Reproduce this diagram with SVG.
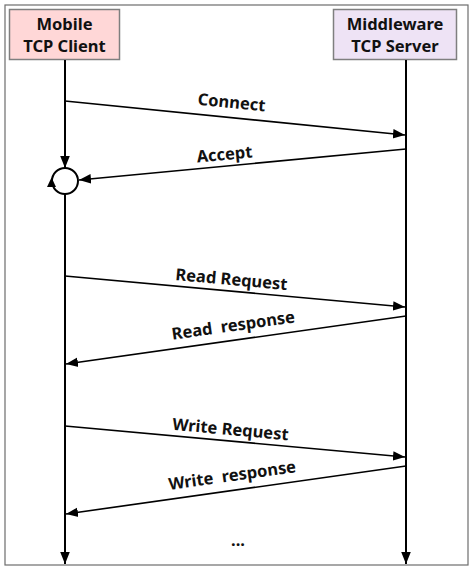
<svg xmlns="http://www.w3.org/2000/svg" width="473" height="568" viewBox="0 0 473 568">
  <style>
    .box { stroke: #7f7f7f; stroke-width: 1.5; }
    .hdr { font-family: "Noto Sans", "Noto Sans CJK KR", sans-serif; font-weight: bold; font-size: 16.5px; fill: #111; text-anchor: middle; }
    .lbl { font-family: "Noto Sans", "Noto Sans CJK KR", sans-serif; font-weight: bold; font-size: 16.5px; fill: #111; text-anchor: middle; white-space: pre; }
    .life { stroke: #000; stroke-width: 2; fill: none; }
    .msg { stroke: #000; stroke-width: 1.6; fill: none; }
  </style>
  <defs>
    <marker id="ahL" viewBox="0 0 10 10" refX="10" refY="5" markerWidth="12" markerHeight="12" orient="auto" markerUnits="userSpaceOnUse">
      <path d="M0,1 L10,5 L0,9 z" fill="#000"/>
    </marker>
  </defs>

  <rect x="5" y="5" width="463" height="560" fill="#fff" stroke="#6d6d6d" stroke-width="1.2"/>

  <g id="client">
    <rect class="box" x="9.5" y="9.5" width="110" height="50" fill="#ffd7d7"/>
    <text class="hdr" x="64.5" y="30">Mobile</text>
    <text class="hdr" x="64.5" y="52">TCP Client</text>
  </g>

  <g id="server">
    <rect class="box" x="333.5" y="9.5" width="123" height="50" fill="#eee3f5"/>
    <text class="hdr" x="395" y="30">Middleware</text>
    <text class="hdr" x="395" y="52">TCP Server</text>
  </g>

  <g id="connectors">
    <!-- lifelines -->
    <line class="life" x1="65" y1="60" x2="65" y2="168" marker-end="url(#ahL)"/>
    <line class="life" x1="65" y1="194" x2="65" y2="564" marker-end="url(#ahL)"/>
    <line class="life" x1="406" y1="60" x2="406" y2="564" marker-end="url(#ahL)"/>

    <!-- accept loop -->
    <circle cx="65" cy="181" r="13" fill="none" stroke="#000" stroke-width="2"/>
    <path d="M47,187 L51.5,177.5 L56,187 z" fill="#000"/>

    <!-- messages -->
    <line class="msg" x1="65" y1="101" x2="405" y2="135" marker-end="url(#ahL)"/>
    <line class="msg" x1="406" y1="149" x2="79" y2="180" marker-end="url(#ahL)"/>
    <line class="msg" x1="65" y1="276" x2="405" y2="307" marker-end="url(#ahL)"/>
    <line class="msg" x1="406" y1="316" x2="66" y2="364" marker-end="url(#ahL)"/>
    <line class="msg" x1="65" y1="426" x2="405" y2="457" marker-end="url(#ahL)"/>
    <line class="msg" x1="406" y1="466" x2="66" y2="514" marker-end="url(#ahL)"/>
  </g>

  <g id="labels">
    <text class="lbl" transform="translate(231,108) rotate(5.7)">Connect</text>
    <text class="lbl" transform="translate(225,160) rotate(-5.3)">Accept</text>
    <text class="lbl" transform="translate(231,285) rotate(5.2)">Read Request</text>
    <text class="lbl" transform="translate(234,331) rotate(-8)">Read  response</text>
    <text class="lbl" transform="translate(230,435) rotate(5.2)">Write Request</text>
    <text class="lbl" transform="translate(233,481) rotate(-8)">Write  response</text>
    <text class="lbl" x="238" y="546">...</text>
  </g>
</svg>
